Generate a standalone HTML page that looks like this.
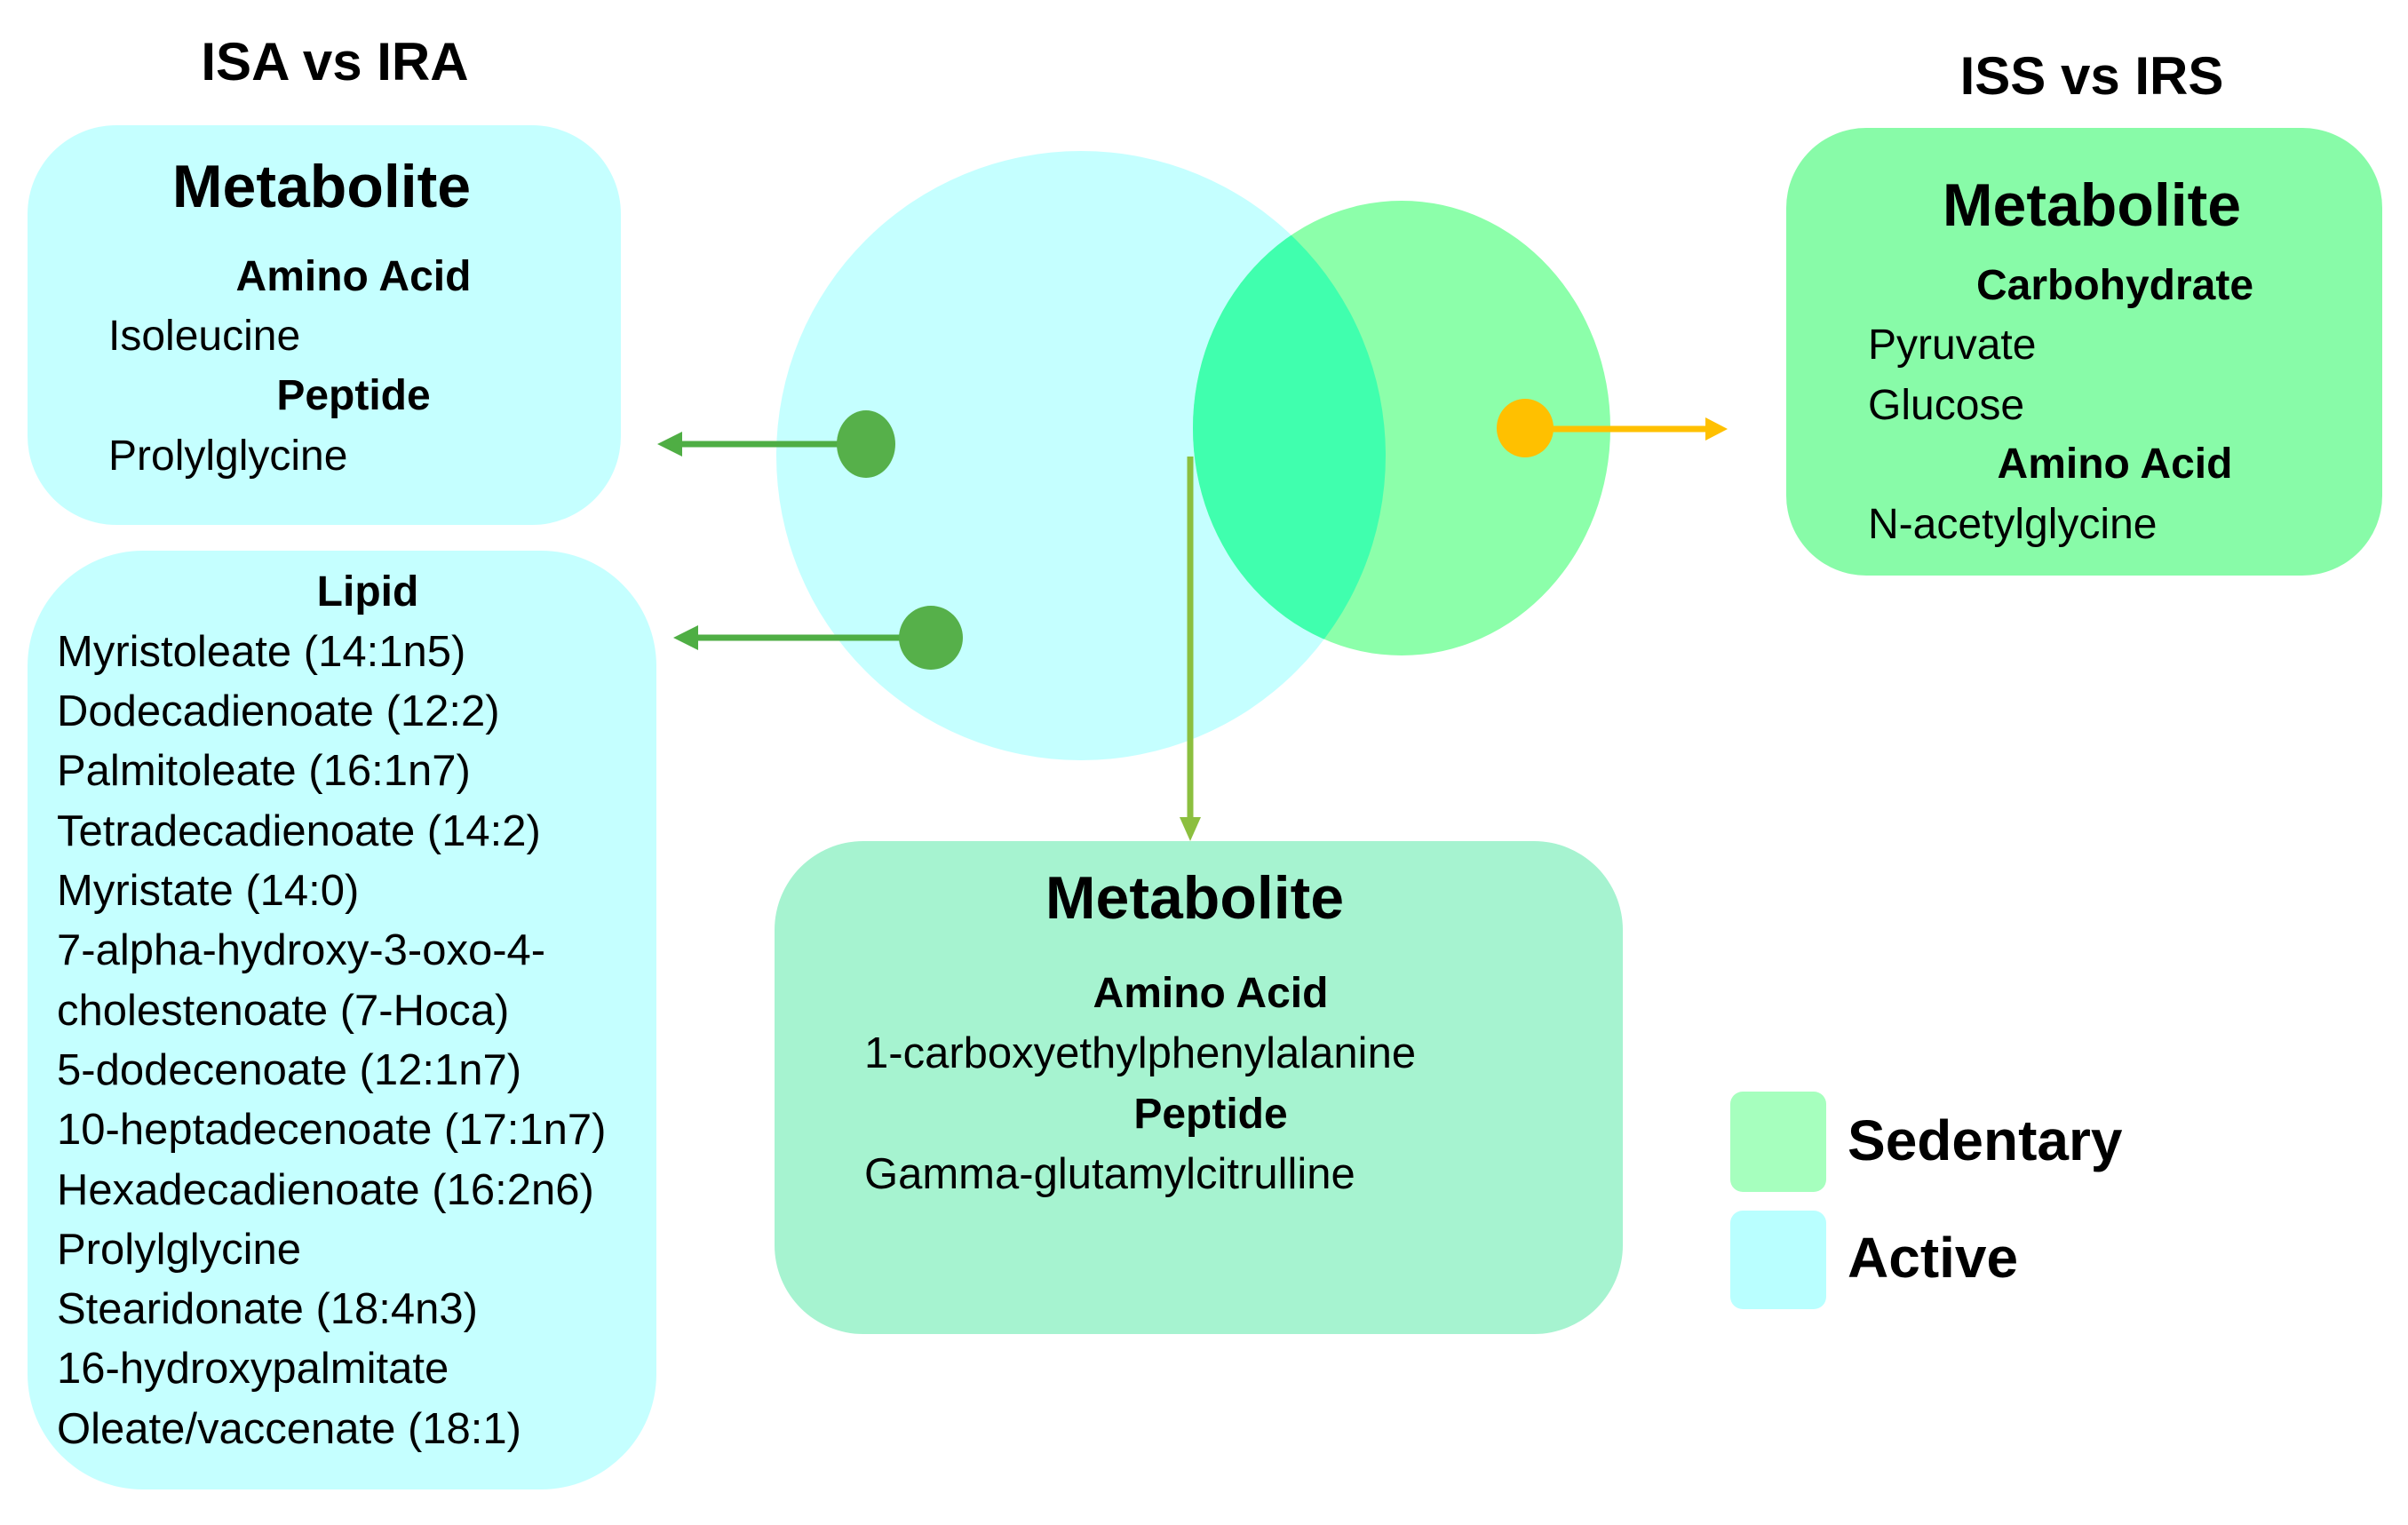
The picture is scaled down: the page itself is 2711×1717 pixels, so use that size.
<!DOCTYPE html>
<html><head><meta charset="utf-8"><style>
html,body{margin:0;padding:0;background:#fff;}
svg{display:block;}
text{font-family:"Liberation Sans",sans-serif;fill:#000;}
.b{font-weight:bold;}
</style></head><body>
<svg width="2711" height="1717" viewBox="0 0 2711 1717" xmlns="http://www.w3.org/2000/svg">
<defs>
<clipPath id="cg"><ellipse cx="1578" cy="482" rx="235" ry="256"/></clipPath>
</defs>
<text x="377" y="90" font-size="60" class="b" text-anchor="middle">ISA vs IRA</text>
<text x="2355" y="106" font-size="60" class="b" text-anchor="middle">ISS vs IRS</text>

<rect x="31" y="141" width="668" height="450" rx="100" fill="#c5ffff"/>
<text x="362" y="233" font-size="68" class="b" text-anchor="middle">Metabolite</text>
<text x="398" y="327" font-size="48" class="b" text-anchor="middle">Amino Acid</text>
<text x="122" y="394" font-size="48">Isoleucine</text>
<text x="398" y="461" font-size="48" class="b" text-anchor="middle">Peptide</text>
<text x="122" y="529" font-size="48">Prolylglycine</text>

<rect x="31" y="620" width="708" height="1057" rx="130" fill="#c5ffff"/>
<g font-size="49">
<text x="414" y="682" font-size="48" class="b" text-anchor="middle">Lipid</text>
<text x="64" y="750">Myristoleate (14:1n5)</text>
<text x="64" y="817">Dodecadienoate (12:2)</text>
<text x="64" y="884">Palmitoleate (16:1n7)</text>
<text x="64" y="952">Tetradecadienoate (14:2)</text>
<text x="64" y="1019">Myristate (14:0)</text>
<text x="64" y="1086">7-alpha-hydroxy-3-oxo-4-</text>
<text x="64" y="1154">cholestenoate (7-Hoca)</text>
<text x="64" y="1221">5-dodecenoate (12:1n7)</text>
<text x="64" y="1288">10-heptadecenoate (17:1n7)</text>
<text x="64" y="1356">Hexadecadienoate (16:2n6)</text>
<text x="64" y="1423">Prolylglycine</text>
<text x="64" y="1490">Stearidonate (18:4n3)</text>
<text x="64" y="1557">16-hydroxypalmitate</text>
<text x="64" y="1625">Oleate/vaccenate (18:1)</text>
</g>

<circle cx="1217" cy="513" r="343" fill="#c5ffff"/>
<ellipse cx="1578" cy="482" rx="235" ry="256" fill="#8cffaa"/>
<circle cx="1217" cy="513" r="343" fill="#40ffae" clip-path="url(#cg)"/>

<line x1="999" y1="500" x2="760" y2="500" stroke="#4fae44" stroke-width="7"/>
<polygon points="740,500 768,486 768,514" fill="#4fae44"/>
<ellipse cx="975" cy="500" rx="33" ry="38" fill="#56b04a"/>
<line x1="1048" y1="718" x2="780" y2="718" stroke="#4fae44" stroke-width="7"/>
<polygon points="758,718 786,704 786,732" fill="#4fae44"/>
<circle cx="1048" cy="718" r="36" fill="#56b04a"/>

<line x1="1726" y1="483" x2="1925" y2="483" stroke="#ffc000" stroke-width="7"/>
<polygon points="1945,483 1920,470 1920,496" fill="#ffc000"/>
<ellipse cx="1717" cy="482" rx="32" ry="33" fill="#ffc000"/>

<line x1="1340" y1="514" x2="1340" y2="925" stroke="#8cbf3f" stroke-width="7"/>
<polygon points="1340,947 1328,920 1352,920" fill="#8cbf3f"/>

<rect x="2011" y="144" width="671" height="504" rx="90" fill="#88fba8"/>
<text x="2355" y="254" font-size="68" class="b" text-anchor="middle">Metabolite</text>
<text x="2381" y="337" font-size="48" class="b" text-anchor="middle">Carbohydrate</text>
<text x="2103" y="404" font-size="48">Pyruvate</text>
<text x="2103" y="472" font-size="48">Glucose</text>
<text x="2381" y="538" font-size="48" class="b" text-anchor="middle">Amino Acid</text>
<text x="2103" y="606" font-size="48">N-acetylglycine</text>

<rect x="872" y="947" width="955" height="555" rx="100" fill="#a6f3d0"/>
<text x="1345" y="1034" font-size="68" class="b" text-anchor="middle">Metabolite</text>
<text x="1363" y="1134" font-size="48" class="b" text-anchor="middle">Amino Acid</text>
<text x="973" y="1202" font-size="49">1-carboxyethylphenylalanine</text>
<text x="1363" y="1270" font-size="48" class="b" text-anchor="middle">Peptide</text>
<text x="973" y="1338" font-size="49">Gamma-glutamylcitrulline</text>

<rect x="1948" y="1229" width="108" height="113" rx="14" fill="#a6ffbe"/>
<rect x="1948" y="1363" width="108" height="111" rx="14" fill="#b9ffff"/>
<text x="2080" y="1306" font-size="64" class="b">Sedentary</text>
<text x="2080" y="1438" font-size="64" class="b">Active</text>
</svg>
</body></html>
